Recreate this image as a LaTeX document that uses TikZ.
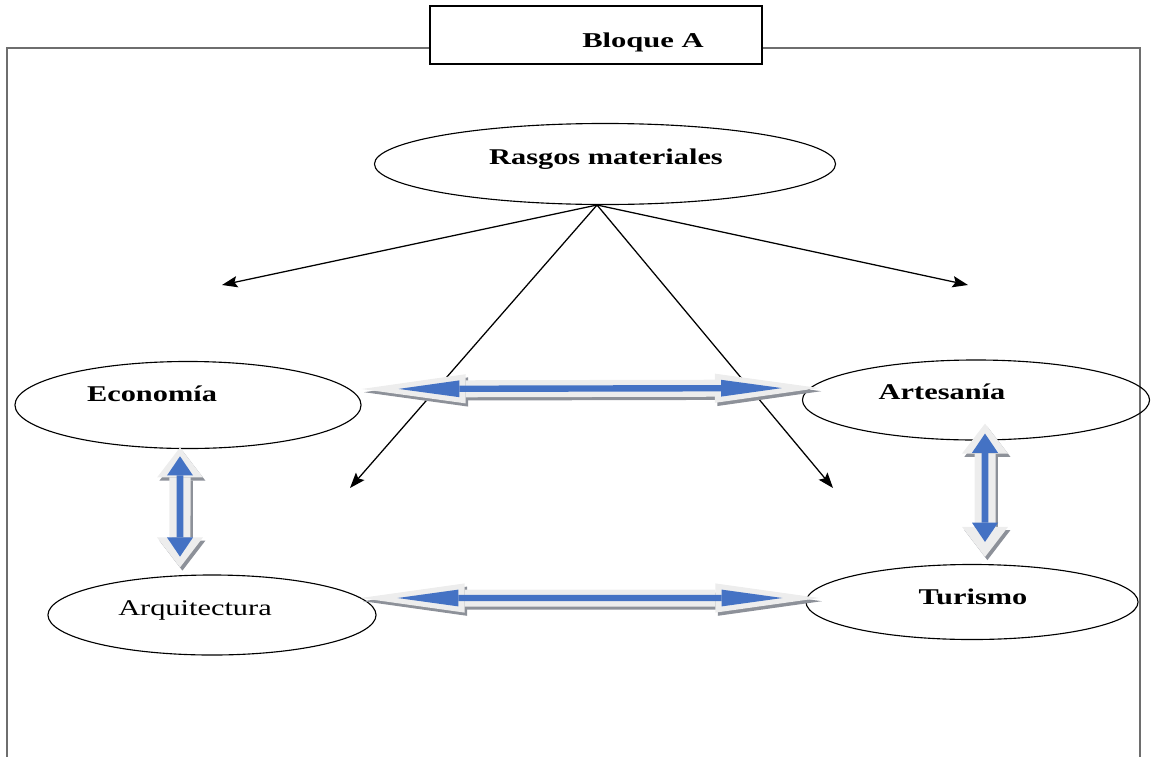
\documentclass[tikz,border=0pt]{standalone}
\usepackage{fontspec}
\setmainfont{Liberation Serif}[FakeStretch=1.35]
\newfontfamily\titlefont{Liberation Serif}[FakeStretch=1.45]
\usepackage{tikz}
\usetikzlibrary{shapes.geometric,arrows.meta}

\definecolor{arrowblue}{HTML}{4472C4}
\definecolor{arrowrim}{HTML}{EDEDED}
\definecolor{arrowshade}{HTML}{8D9199}
\definecolor{framegray}{HTML}{6E6E6E}

\begin{document}
\begin{tikzpicture}[x=0.025cm, y=-0.025cm,
    oval/.style={draw, ellipse, line width=0.8pt, inner sep=0pt},
    tag/.style={anchor=base, inner sep=0pt, font=\fontsize{16}{19}\selectfont},
    pointer/.style={line width=0.9pt, -{Stealth[length=11pt, width=8pt, inset=2pt]}},
    hrim/.style={line width=0.425cm, color=arrowrim,
        {Triangle[length=2.6cm, width=0.73cm, line width=0pt]}-{Triangle[length=2.6cm, width=0.73cm, line width=0pt]}},
    hcore/.style={line width=0.16cm, color=arrowblue, shorten <=0.925cm, shorten >=0.925cm,
        {Triangle[length=1.52cm, width=0.42cm, line width=0pt]}-{Triangle[length=1.52cm, width=0.42cm, line width=0pt]}},
    vrim/.style={line width=0.525cm, color=arrowrim,
        {Triangle[length=0.75cm, width=1.15cm, line width=0pt]}-{Triangle[length=0.75cm, width=1.15cm, line width=0pt]}},
    vcore/.style={line width=0.17cm, color=arrowblue, shorten <=0.22cm, shorten >=0.27cm,
        {Triangle[length=0.48cm, width=0.65cm, line width=0pt]}-{Triangle[length=0.48cm, width=0.65cm, line width=0pt]}},
    dropshade/.style={color=arrowshade, transform canvas={xshift=0.06cm, yshift=-0.08cm}}
]
    \useasboundingbox (0,0) rectangle (1162,756);

    % Frame
    \draw[framegray, line width=1.4pt] (7,760) -- (7,48) -- (1140,48) -- (1140,760);

    % Bloque A
    \node[draw, fill=white, line width=1pt, minimum width=8.3cm, minimum height=1.45cm] (bloque) at (596,35) {};
    \node[tag, font=\titlefont\fontsize{15}{18}\selectfont\bfseries] (bloquetxt) at (643,47) {Bloque A};

    % Rasgos materiales
    \node[oval, minimum width=11.525cm, minimum height=2.025cm] (rasgos) at (605,164) {};
    \node[tag, font=\fontsize{16}{19}\selectfont\bfseries] (rasgostxt) at (606,164) {Rasgos materiales};

    % Economia
    \node[oval, minimum width=8.65cm, minimum height=2.175cm] (econ) at (188,405) {};
    \node[tag, font=\fontsize{16}{19}\selectfont\bfseries] (econtxt) at (152,401) {Economía};

    % Artesania
    \node[oval, minimum width=8.675cm, minimum height=2cm] (artes) at (976,400) {};
    \node[tag, font=\fontsize{16}{19}\selectfont\bfseries] (artestxt) at (942,399) {Artesanía};

    % Arquitectura
    \node[oval, minimum width=8.2cm, minimum height=2cm] (arqui) at (212,615) {};
    \node[tag] (arquitxt) at (195,615) {Arquitectura};

    % Turismo
    \node[oval, minimum width=8.3cm, minimum height=1.875cm] (turismo) at (972,602) {};
    \node[tag, font=\fontsize{16}{19}\selectfont\bfseries] (turismotxt) at (973,604) {Turismo};

    % Pointers
    \coordinate (hub) at (597,205);
    \coordinate (pleft) at (222,285);
    \coordinate (pright) at (968,285);
    \coordinate (pmidl) at (350,488);
    \coordinate (pmidr) at (833,488);
    \draw[pointer] (hub) -- (pleft);
    \draw[pointer] (hub) -- (pright);
    \draw[pointer] (hub) -- (pmidl);
    \draw[pointer] (hub) -- (pmidr);

    % Economia <-> Artesania
    \draw[hrim, dropshade] ([yshift=0.4cm]econ.east) -- ([xshift=0.425cm, yshift=0.3cm]artes.west);
    \draw[hrim] ([yshift=0.4cm]econ.east) -- ([xshift=0.425cm, yshift=0.3cm]artes.west);
    \draw[hcore] ([yshift=0.4cm]econ.east) -- ([xshift=0.425cm, yshift=0.3cm]artes.west);

    % Arquitectura <-> Turismo
    \draw[hrim, dropshade] ([xshift=-0.4cm, yshift=0.425cm]arqui.east) -- ([xshift=0.35cm, yshift=0.1cm]turismo.west);
    \draw[hrim] ([xshift=-0.4cm, yshift=0.425cm]arqui.east) -- ([xshift=0.35cm, yshift=0.1cm]turismo.west);
    \draw[hcore] ([xshift=-0.4cm, yshift=0.425cm]arqui.east) -- ([xshift=0.35cm, yshift=0.1cm]turismo.west);

    % Economia <-> Arquitectura
    \draw[vrim, dropshade] ([xshift=-0.2cm, yshift=0.04cm]econ.south) -- ([xshift=-0.8cm, yshift=0.175cm]arqui.north);
    \draw[vrim] ([xshift=-0.2cm, yshift=0.04cm]econ.south) -- ([xshift=-0.8cm, yshift=0.175cm]arqui.north);
    \draw[vcore] ([xshift=-0.2cm, yshift=0.04cm]econ.south) -- ([xshift=-0.8cm, yshift=0.175cm]arqui.north);

    % Artesania <-> Turismo
    \draw[vrim, dropshade] ([xshift=0.225cm, yshift=0.425cm]artes.south) -- ([xshift=0.325cm, yshift=0.175cm]turismo.north);
    \draw[vrim] ([xshift=0.225cm, yshift=0.425cm]artes.south) -- ([xshift=0.325cm, yshift=0.175cm]turismo.north);
    \draw[vcore, shorten <=0.25cm, shorten >=0.375cm] ([xshift=0.225cm, yshift=0.425cm]artes.south) -- ([xshift=0.325cm, yshift=0.175cm]turismo.north);
\end{tikzpicture}
\end{document}
